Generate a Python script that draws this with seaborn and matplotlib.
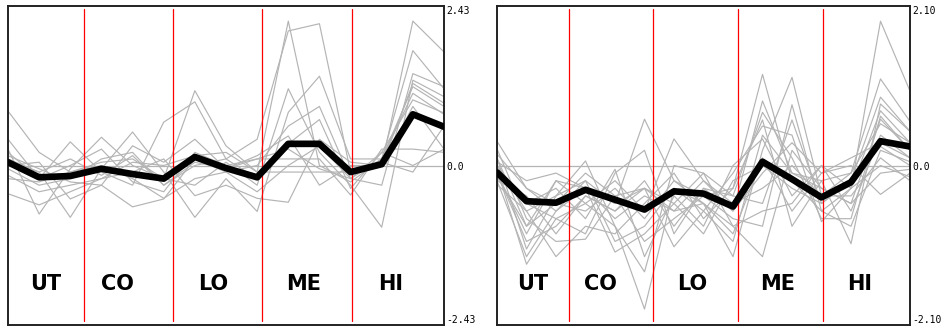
import numpy as np
import pandas as pd
import matplotlib
matplotlib.use("Agg")
import matplotlib.pyplot as plt
import seaborn as sns

# Dose groups along the profile (three samples per group)
stages = ["UT", "CO", "LO", "ME", "HI"]
points = list(range(15))
stage_label_x = [1.2, 3.5, 6.6, 9.5, 12.3]
stage_breaks = [2.45, 5.3, 8.17, 11.05]

# Cluster A: individual profiles and cluster centre
left_limit = 2.43
left_profiles = [
    [0.83, 0.20, -0.10, 0.05, 0.10, -0.20, 1.14, 0.30, -0.10, 2.20, 0.00, -0.25, 0.10, 1.75, 1.17],
    [0.40, -0.20, 0.36, -0.10, -0.30, 0.66, 0.97, 0.10, 0.40, 2.05, 2.16, -0.10, 0.00, 2.20, 1.73],
    [0.25, -0.74, -0.05, 0.43, 0.00, -0.20, -0.30, 0.05, -0.30, 1.17, 0.20, -0.30, -0.94, 1.30, 1.05],
    [0.10, -0.10, -0.79, -0.05, 0.51, -0.10, -0.79, -0.20, -0.70, 0.81, 1.36, 0.10, 0.10, 1.20, 0.90],
    [0.00, 0.05, -0.51, -0.30, -0.63, -0.51, 0.10, -0.10, 0.00, 0.60, 0.90, -0.20, 0.10, 1.10, 0.78],
    [-0.05, -0.30, -0.20, 0.10, 0.20, -0.30, 0.00, 0.10, -0.20, 0.33, 0.70, -0.35, 0.20, 1.00, 0.80],
    [-0.15, -0.40, -0.30, -0.20, -0.10, 0.10, -0.46, -0.30, -0.50, -0.56, 0.40, 0.05, 0.00, 0.90, 0.25],
    [0.20, -0.20, 0.00, 0.25, -0.25, -0.40, 0.20, 0.00, 0.10, 0.10, 0.10, -0.45, 0.25, 0.25, 0.20],
    [-0.43, -0.60, -0.40, -0.20, 0.05, 0.00, 0.15, 0.20, -0.10, -0.10, -0.10, -0.10, 0.05, -0.10, 0.60],
    [0.05, -0.10, 0.10, -0.15, 0.15, -0.30, 0.05, -0.05, 0.10, 0.25, -0.05, -0.20, -0.30, 1.40, 1.20],
    [-0.20, -0.25, -0.10, 0.00, -0.20, -0.50, -0.20, -0.10, -0.40, 0.00, 0.30, -0.20, 0.20, 0.00, 0.25],
    [0.15, -0.05, -0.25, -0.30, 0.30, 0.05, 0.40, -0.05, 0.15, 0.45, -0.30, 0.00, 0.00, 1.25, 0.95],
]
left_centre = [0.05, -0.18, -0.16, -0.05, -0.13, -0.20, 0.13, -0.04, -0.18, 0.33, 0.33, -0.10, 0.02, 0.78, 0.59]

# Cluster B: individual profiles and cluster centre
right_limit = 2.10
right_profiles = [
    [0.32, -0.30, -0.60, -0.20, -0.50, 0.61, -0.20, -0.40, -0.30, 1.20, -0.20, -0.60, -0.30, 1.90, 0.98],
    [0.10, -1.10, -0.40, 0.06, -0.80, -1.89, -0.30, -0.50, -1.20, 0.20, 1.16, -0.40, -0.10, 1.14, 0.58],
    [-0.05, -1.30, -0.70, -0.50, -0.20, -0.60, 0.35, -0.20, -0.60, 0.85, -0.10, -0.20, -1.03, 0.81, 0.45],
    [0.22, -0.70, -1.00, -0.97, -0.40, -0.30, -1.07, -0.60, -0.10, 0.52, 0.40, -0.74, -0.30, 0.72, 0.30],
    [-0.10, -0.90, -0.20, -0.30, -1.14, -0.90, -0.50, -0.10, -0.80, -1.20, 0.20, -0.30, -0.50, 0.61, 0.20],
    [0.00, -0.50, -0.30, -0.70, -0.05, -1.20, -0.40, -0.80, 0.00, 0.35, -0.40, 0.00, -0.60, 0.40, 0.10],
    [-0.20, -0.40, -0.90, -0.40, -0.60, -0.20, -0.80, -0.30, -0.40, -0.50, 0.60, -0.50, -0.20, 0.25, 0.00],
    [-0.15, -0.80, -0.50, -0.60, -0.30, -0.70, -0.20, -0.50, -0.90, 0.10, -0.60, -0.10, 0.00, -0.38, -0.10],
    [0.05, -0.20, -0.10, -0.30, -0.70, -0.40, -0.60, -0.20, -0.50, -0.30, 0.00, -0.40, -0.40, 0.10, -0.20],
    [-0.25, -0.60, -1.20, -0.80, -0.90, -0.50, -0.10, -0.70, -0.30, 0.60, -0.80, -0.20, -0.10, 0.55, 0.30],
    [0.15, -0.30, -0.50, -0.10, -0.40, -1.00, -0.70, -0.40, -0.70, -0.80, 0.80, -0.60, -0.80, 0.20, 0.05],
    [-0.10, -1.00, -0.80, -0.40, -0.60, -0.30, -0.50, -0.90, -0.20, 0.00, -0.30, -0.50, -0.20, 0.90, 0.45],
    [0.00, -0.60, -0.40, -0.20, -1.00, -0.80, -0.30, -0.60, -1.00, 0.40, -0.10, -0.30, -0.50, -0.10, -0.05],
    [-0.05, -0.50, -0.70, -0.90, -0.10, 0.20, -0.90, -0.30, -0.60, -0.10, 0.30, -0.10, 0.10, 0.30, 0.10],
    [0.10, -0.80, -0.20, -0.50, -0.80, -1.40, 0.00, -0.10, -0.40, 0.70, 0.10, -0.70, -0.70, 0.65, 0.20],
    [-0.20, -1.20, -0.60, -0.30, -0.50, -0.30, -0.60, -0.50, -0.80, -0.60, -0.50, 0.00, -0.30, 0.00, -0.15],
]
right_centre = [-0.09, -0.47, -0.49, -0.32, -0.45, -0.58, -0.34, -0.37, -0.54, 0.05, -0.18, -0.42, -0.22, 0.32, 0.25]

GREY = "#b4b4b4"

sns.set_style("white")
plt.rcParams["font.family"] = ["DejaVu Sans"]


def draw_panel(ax, profiles, centre, limit):
    rows = [
        {"profile": i, "point": p, "value": v}
        for i, prof in enumerate(profiles)
        for p, v in zip(points, prof)
    ]
    df = pd.DataFrame(rows)

    ax.axhline(0, color=GREY, lw=0.9, zorder=1)
    sns.lineplot(data=df, x="point", y="value", units="profile", estimator=None,
                 color=GREY, lw=0.85, ax=ax, legend=False, zorder=2)
    for b in stage_breaks:
        ax.axvline(b, ymin=0.012, ymax=0.99, color="red", lw=0.9, zorder=3)
    sns.lineplot(x=points, y=centre, color="black", lw=4.8, ax=ax, zorder=4)

    for name, xpos in zip(stages, stage_label_x):
        ax.text(xpos, 0.128, name, transform=ax.get_xaxis_transform(),
                ha="center", va="center", fontsize=15, fontweight="bold",
                color="black", zorder=5)

    ax.set_xlim(0, 14)
    ax.set_ylim(-limit, limit)
    ax.set_xticks([])
    ax.set_xlabel("")
    ax.set_ylabel("")
    ax.yaxis.tick_right()
    ax.set_yticks([limit, 0, -limit])
    ax.set_yticklabels([f"{limit:.2f}", "0.0", f"-{limit:.2f}"],
                       family="DejaVu Sans Mono", fontsize=7)
    labels = ax.get_yticklabels()
    labels[0].set_va("top")
    labels[2].set_va("bottom")
    ax.tick_params(axis="y", length=0, pad=2, colors="black")
    for sp in ax.spines.values():
        sp.set_visible(True)
        sp.set_color("#222222")
        sp.set_linewidth(1.4)


fig = plt.figure(figsize=(9.5, 3.31), dpi=100)
ax_l = fig.add_axes([8 / 950, 6 / 331, 436 / 950, 319 / 331])
ax_r = fig.add_axes([497 / 950, 6 / 331, 413 / 950, 319 / 331])

draw_panel(ax_l, left_profiles, left_centre, left_limit)
draw_panel(ax_r, right_profiles, right_centre, right_limit)

fig.savefig("out.png", dpi=100, facecolor="white")
